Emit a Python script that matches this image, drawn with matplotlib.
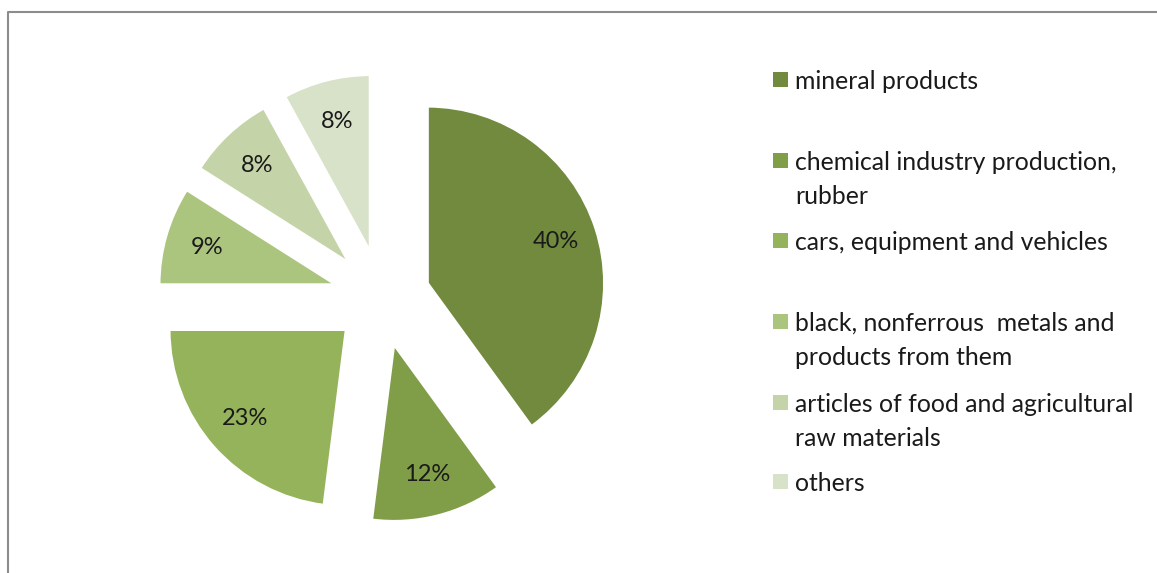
import matplotlib
matplotlib.use('Agg')
import matplotlib.pyplot as plt
from matplotlib.lines import Line2D
from matplotlib.patches import Rectangle

plt.rcParams['font.family'] = ['Lato', 'DejaVu Sans']

categories = ['mineral products',
              'chemical industry production,\nrubber',
              'cars, equipment and vehicles',
              'black, nonferrous  metals and\nproducts from them',
              'articles of food and agricultural\nraw materials',
              'others']
shares = [40, 12, 23, 9, 8, 8]
colors = ['#718a3e', '#809d48', '#95b35a', '#abc47e', '#c4d4a8', '#d8e2c9']

W, H = 1157, 573
fig = plt.figure(figsize=(W / 100, H / 100), dpi=100)
ax = fig.add_axes([0, 0, 1, 1])

# pie centre and radius in pixels
cx, cy, rad = 382, 298, 177

wedges, texts, autotexts = ax.pie(
    shares, colors=colors, startangle=90, counterclock=False,
    explode=[0.27] * len(shares), radius=1.0,
    autopct='%d%%', pctdistance=0.76,
    wedgeprops=dict(edgecolor='white', linewidth=2.0),
    textprops=dict(fontsize=17, color='#1a1a1a'))

ax.set_aspect('auto')
ax.set_xlim(-cx / rad, (W - cx) / rad)
ax.set_ylim(-(H - cy) / rad, cy / rad)
ax.axis('off')

# legend drawn by hand to keep Excel-like spacing
leg_y = [80, 161, 241, 322, 403, 482]
for name, col, y in zip(categories, colors, leg_y):
    fig.patches.append(Rectangle((773 / W, 1 - (y + 7) / H), 15 / W, 15 / H,
                                 transform=fig.transFigure, facecolor=col,
                                 edgecolor='none'))
    fig.text(795 / W, 1 - (y - 10) / H, name, fontsize=17.8, color='#1a1a1a',
             va='top', ha='left', linespacing=1.58)

# outer frame (only top and left visible)
fig.lines.append(Line2D([7.5 / W, 7.5 / W, 1.0], [0.0, 1 - 11.5 / H, 1 - 11.5 / H],
                        transform=fig.transFigure, color='#8c8c8c', linewidth=1.5))

fig.savefig('out.png', dpi=100)
